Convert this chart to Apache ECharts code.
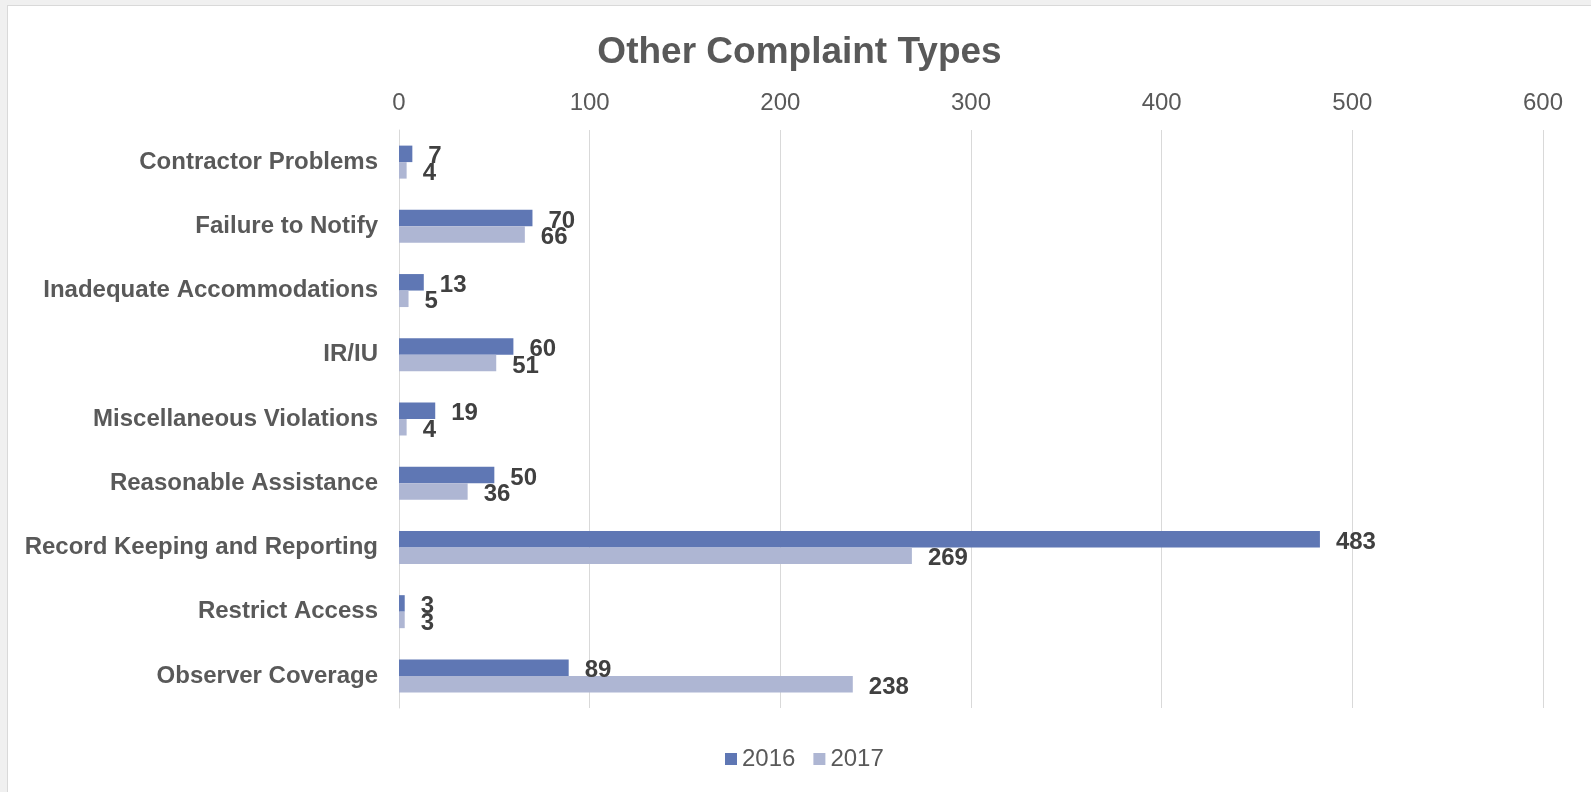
<!DOCTYPE html>
<html>
<head>
<meta charset="utf-8">
<script src="https://cdn.jsdelivr.net/npm/echarts@6/dist/echarts.min.js"></script>
<style>
    html, body {
        margin: 0;
        padding: 0;
        background: #f0f0f0;
        overflow: hidden;
    }
    .frame {
        position: absolute;
        left: 7px;
        top: 5px;
        border-left: 1px solid #d9d9d9;
        border-top: 1px solid #d9d9d9;
        background: #ffffff;
    }
    .echarts {
        width: 1583px;
        height: 786px;
    }
</style>
</head>
<body>
<div class="frame">
    <div id="chart" class="echarts"></div>
</div>
<script>
    var categories = [
        'Contractor Problems',
        'Failure to Notify',
        'Inadequate Accommodations',
        'IR/IU',
        'Miscellaneous Violations',
        'Reasonable Assistance',
        'Record Keeping and Reporting',
        'Restrict Access',
        'Observer Coverage'
    ];
    var values2016 = [7, 70, 13, 60, 19, 50, 483, 3, 89];
    var values2017 = [4, 66, 5, 51, 4, 36, 269, 3, 238];
    var xTicks = [0, 100, 200, 300, 400, 500, 600];

    var textColor = '#595959';
    var font = 'Liberation Sans, Arial, sans-serif';

    var labelStyle = {
        show: true,
        position: 'right',
        distance: 16,
        offset: [0, 3],
        color: '#404040',
        fontSize: 24,
        fontWeight: 'bold',
        fontFamily: font
    };

    var chart = echarts.init(document.getElementById('chart'));
    var options = {
        animation: false,
        title: {
            text: 'Other Complaint Types',
            left: 'center',
            top: 23,
            textStyle: {
                color: textColor,
                fontSize: 37,
                fontWeight: 'bold',
                fontFamily: font
            }
        },
        legend: {
            data: ['2016', '2017'],
            left: 712,
            top: 736,
            icon: 'rect',
            itemWidth: 12,
            itemHeight: 12,
            itemGap: 18,
            textStyle: {
                color: textColor,
                fontSize: 24,
                fontFamily: font
            }
        },
        grid: {
            left: 391,
            right: 48,
            top: 124,
            bottom: 84
        },
        xAxis: {
            type: 'value',
            position: 'top',
            min: xTicks[0],
            max: xTicks[xTicks.length - 1],
            interval: 100,
            axisLine: { show: false },
            axisTick: { show: false },
            axisLabel: {
                margin: 15,
                color: textColor,
                fontSize: 24,
                fontFamily: font
            },
            splitLine: {
                lineStyle: { color: '#d9d9d9', width: 1 }
            }
        },
        yAxis: {
            type: 'category',
            inverse: true,
            data: categories,
            axisLine: {
                lineStyle: { color: '#d9d9d9', width: 1 }
            },
            axisTick: { show: false },
            axisLabel: {
                margin: 21,
                color: textColor,
                fontSize: 24,
                fontWeight: 'bold',
                fontFamily: font
            }
        },
        series: [
            {
                name: '2016',
                type: 'bar',
                data: values2016,
                barWidth: 16.5,
                barGap: '0%',
                itemStyle: { color: '#5f77b4' },
                label: labelStyle
            },
            {
                name: '2017',
                type: 'bar',
                data: values2017,
                barWidth: 16.5,
                barGap: '0%',
                itemStyle: { color: '#aeb6d3' },
                label: labelStyle
            }
        ]
    };
    chart.setOption(options, true);
</script>
</body>
</html>
